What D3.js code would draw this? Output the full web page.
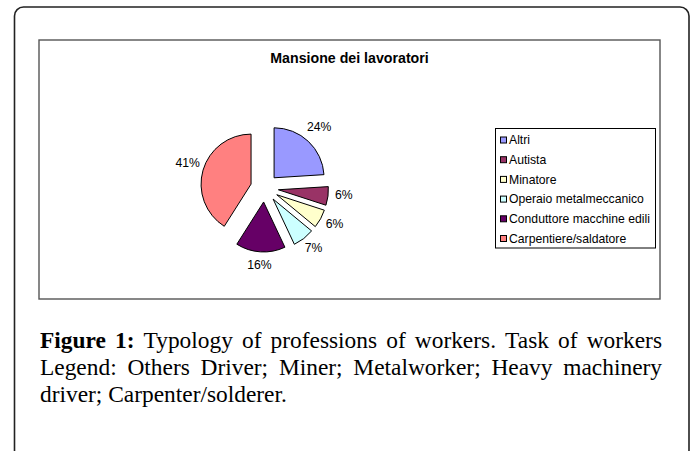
<!DOCTYPE html>
<html>
<head>
<meta charset="utf-8">
<script src="https://cdn.jsdelivr.net/npm/d3@7"></script>
<style>
  html, body { margin: 0; padding: 0; background: #fff; }
  svg { display: block; }
</style>
</head>
<body>
<svg id="chart" width="692" height="451"></svg>
<script>
// ---- data ----
const categories = ["Altri", "Autista", "Minatore", "Operaio metalmeccanico", "Conduttore macchine edili", "Carpentiere/saldatore"];
const values = [24, 6, 6, 7, 16, 41];
const labels = ["24%", "6%", "6%", "7%", "16%", "41%"];
const colors = ["#9999FF", "#993366", "#FFFFCC", "#CCFFFF", "#660066", "#FF8080"];
const chartTitle = "Mansione dei lavoratori";
const captionLines = [
  [["Figure", true], ["1:", true], ["Typology", false], ["of", false], ["professions", false], ["of", false], ["workers.", false], ["Task", false], ["of", false], ["workers", false]],
  [["Legend:", false], ["Others", false], ["Driver;", false], ["Miner;", false], ["Metalworker;", false], ["Heavy", false], ["machinery", false]],
  [["driver;", false], ["Carpenter/solderer.", false]]
];

const svg = d3.select("#chart");

// outer rounded frame
svg.append("rect")
  .attr("x", 14.5).attr("y", 7).attr("width", 674.5).attr("height", 452)
  .attr("rx", 9).attr("ry", 9)
  .attr("fill", "#fff").attr("stroke", "#222").attr("stroke-width", 1.6);

// inner chart box
svg.append("rect")
  .attr("x", 39).attr("y", 40).attr("width", 621).attr("height", 259)
  .attr("fill", "#fff").attr("stroke", "#555").attr("stroke-width", 1.4);

// title
svg.append("text")
  .attr("x", 349.5).attr("y", 62.5)
  .attr("text-anchor", "middle")
  .attr("font-family", "Liberation Sans, Arial, sans-serif")
  .attr("font-weight", "bold").attr("font-size", 14.2)
  .attr("fill", "#000")
  .text(chartTitle);

// pie
const cx = 264.5, cy = 188, R = 50, explode = 14, labelR = 66;
const pie = d3.pie().sort(null).value(d => d)(values);
const arc = d3.arc().innerRadius(0).outerRadius(R);
const g = svg.append("g").attr("transform", `translate(${cx},${cy})`);

pie.forEach((p, i) => {
  const mid = (p.startAngle + p.endAngle) / 2;
  const ox = explode * Math.sin(mid), oy = -explode * Math.cos(mid);
  g.append("path")
    .attr("d", arc(p))
    .attr("transform", `translate(${ox},${oy})`)
    .attr("fill", colors[i])
    .attr("stroke", "#000").attr("stroke-width", 1)
    .attr("stroke-linejoin", "round");
  g.append("text")
    .attr("x", ox + labelR * Math.sin(mid))
    .attr("y", oy - labelR * Math.cos(mid) - 3)
    .attr("dy", "0.35em")
    .attr("text-anchor", "middle")
    .attr("font-family", "Liberation Sans, Arial, sans-serif")
    .attr("font-size", 12.2)
    .attr("fill", "#000")
    .text(labels[i]);
});

// legend
const lg = svg.append("g");
lg.append("rect")
  .attr("x", 495.5).attr("y", 128.5).attr("width", 160).attr("height", 119.5)
  .attr("fill", "#fff").attr("stroke", "#000").attr("stroke-width", 1);
const ly = d3.scalePoint().domain(categories).range([140, 238.5]);
categories.forEach((c, i) => {
  const y = ly(c);
  lg.append("rect")
    .attr("x", 500.5).attr("y", y - 3).attr("width", 6).attr("height", 6)
    .attr("fill", colors[i]).attr("stroke", "#000").attr("stroke-width", 1);
  lg.append("text")
    .attr("x", 509).attr("y", y).attr("dy", "0.36em")
    .attr("font-family", "Liberation Sans, Arial, sans-serif")
    .attr("font-size", 12.2)
    .attr("fill", "#000")
    .text(c);
});

// caption (justified)
const capX0 = 40, capX1 = 662;
const baselines = [347.5, 374.8, 402];
const capFont = "Liberation Serif, 'Times New Roman', serif";
const cap = svg.append("g");
// calibrate font size on last line width
let fs = 20;
const probe = cap.append("text").attr("font-family", capFont).attr("font-size", fs)
  .text("driver; Carpenter/solderer.");
const pw = probe.node().getComputedTextLength();
probe.remove();
fs = fs * 247 / pw;

captionLines.forEach((line, li) => {
  const widths = line.map(([w, b]) => {
    const t = cap.append("text").attr("font-family", capFont).attr("font-size", fs)
      .attr("font-weight", b ? "bold" : "normal").text(w);
    const wd = t.node().getComputedTextLength();
    t.remove();
    return wd;
  });
  const total = d3.sum(widths);
  const justify = li < captionLines.length - 1;
  const sp0 = cap.append("text").attr("font-family", capFont).attr("font-size", fs).text("a a");
  const spW = sp0.node().getComputedTextLength();
  sp0.remove();
  const a0 = cap.append("text").attr("font-family", capFont).attr("font-size", fs).text("aa");
  const spaceW = spW - a0.node().getComputedTextLength();
  a0.remove();
  const gap = justify ? (capX1 - capX0 - total) / (line.length - 1) : spaceW;
  let x = capX0;
  line.forEach(([w, b], wi) => {
    cap.append("text")
      .attr("x", x).attr("y", baselines[li])
      .attr("font-family", capFont).attr("font-size", fs)
      .attr("font-weight", b ? "bold" : "normal")
      .attr("fill", "#000")
      .text(w);
    x += widths[wi] + gap;
  });
});
</script>
</body>
</html>
